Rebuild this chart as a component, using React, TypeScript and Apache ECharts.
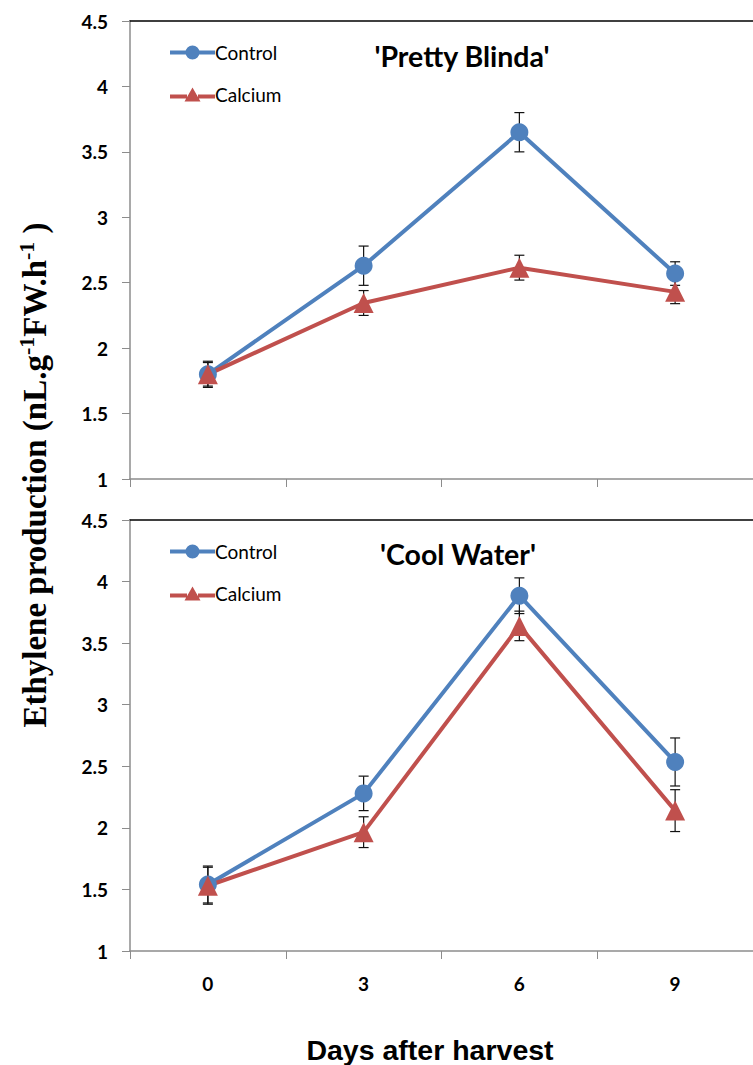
import React, { useEffect, useRef } from "react";
import * as echarts from "echarts";

const categories = ["0", "3", "6", "9"];
const yTicks = { min: 1, max: 4.5, interval: 0.5 };
const legendNames = ["Control", "Calcium"];

// 'Pretty Blinda'
const pbControl = [1.8, 2.63, 3.65, 2.57];
const pbControlErr = [0.1, 0.15, 0.15, 0.09];
const pbCalcium = [1.8, 2.345, 2.615, 2.43];
const pbCalciumErr = [0.09, 0.095, 0.095, 0.09];

// 'Cool Water'
const cwControl = [1.54, 2.28, 3.885, 2.535];
const cwControlErr = [0.15, 0.14, 0.145, 0.195];
const cwCalcium = [1.53, 1.965, 3.64, 2.14];
const cwCalciumErr = [0.15, 0.125, 0.12, 0.17];

const BLUE = "#4F81BD";
const RED = "#C0504D";
const AXIS_GRAY = "#8c8c8c";
const SANS = "Lato";

const ICON_CIRCLE =
  "path://M0,5 H16 V9 H0 Z M29,5 H45 V9 H29 Z M15.5,7 A7,7 0 1,1 29.5,7 A7,7 0 1,1 15.5,7 Z";
const ICON_TRIANGLE =
  "path://M0,7 H17 V11 H0 Z M28,7 H45 V11 H28 Z M22.5,0 L30.5,14 L14.5,14 Z";

function errBar(params: any, api: any) {
  const x = api.value(0);
  const v = api.value(1);
  const e = api.value(2);
  const top = api.coord([x, v + e]);
  const bot = api.coord([x, v - e]);
  const hw = 5;
  const st = { stroke: "#111", lineWidth: 1.2 };
  return {
    type: "group",
    children: [
      { type: "line", shape: { x1: top[0], y1: top[1], x2: bot[0], y2: bot[1] }, style: st },
      { type: "line", shape: { x1: top[0] - hw, y1: top[1], x2: top[0] + hw, y2: top[1] }, style: st },
      { type: "line", shape: { x1: bot[0] - hw, y1: bot[1], x2: bot[0] + hw, y2: bot[1] }, style: st },
    ],
  };
}

export default function App() {
  const ref = useRef<HTMLDivElement>(null);
  useEffect(() => {
    if (!ref.current) return;
    const chart = echarts.init(ref.current, undefined, { renderer: "svg" });

    const grids = [
      { left: 130, top: 21, width: 634, height: 458 },
      { left: 130, top: 520, width: 634, height: 431 },
    ];

    const bottomAxis = (gi: number, showLabels: boolean) => ({
      type: "category",
      gridIndex: gi,
      data: categories,
      boundaryGap: true,
      position: "bottom",
      axisLine: { show: true, lineStyle: { color: AXIS_GRAY, width: 1.5 } },
      axisTick: { show: true, length: 8, inside: false, lineStyle: { color: AXIS_GRAY, width: 1 } },
      axisLabel: {
        show: showLabels,
        margin: 23,
        fontFamily: SANS,
        fontWeight: "bold",
        fontSize: 19,
        color: "#000",
      },
      splitLine: { show: false },
    });
    const topBorder = (gi: number) => ({
      type: "category",
      gridIndex: gi,
      data: categories,
      position: "top",
      axisLine: { show: true, onZero: false, lineStyle: { color: "#000", width: 1.5 } },
      axisTick: { show: false },
      axisLabel: { show: false },
      splitLine: { show: false },
    });
    const yAxis = (gi: number) => ({
      type: "value",
      gridIndex: gi,
      min: yTicks.min,
      max: yTicks.max,
      interval: yTicks.interval,
      axisLine: { show: true, lineStyle: { color: AXIS_GRAY, width: 1.5 } },
      axisTick: { show: true, length: 8, lineStyle: { color: AXIS_GRAY, width: 1 } },
      axisLabel: {
        margin: 22,
        fontFamily: SANS,
        fontWeight: "bold",
        fontSize: 19,
        color: "#000",
      },
      splitLine: { show: false },
    });

    const lineSeries = (name: string, data: number[], gi: number, color: string, symbol: string, size: number) => ({
      type: "line",
      name,
      data,
      xAxisIndex: gi,
      yAxisIndex: gi,
      symbol,
      symbolSize: size,
      color,
      lineStyle: { color, width: 4 },
      itemStyle: { color },
      z: 3,
    });
    const errSeries = (name: string, vals: number[], errs: number[], gi: number) => ({
      type: "custom",
      name,
      xAxisIndex: gi,
      yAxisIndex: gi,
      data: vals.map((v, i) => [i, v, errs[i]]),
      encode: { x: 0, y: 1 },
      renderItem: errBar,
      z: 2,
    });

    const legendBase = {
      orient: "vertical",
      left: 165,
      itemWidth: 45,
      itemHeight: 14,
      itemGap: 23,
      selectedMode: false,
      data: [
        { name: legendNames[0], icon: ICON_CIRCLE },
        { name: legendNames[1], icon: ICON_TRIANGLE },
      ],
      textStyle: { fontFamily: SANS, fontSize: 19, color: "#000", padding: [0, 0, 0, -5] },
    };

    const option: any = {
      animation: false,
      backgroundColor: "#fff",
      grid: grids,
      xAxis: [bottomAxis(0, false), bottomAxis(1, true), topBorder(0), topBorder(1)],
      yAxis: [yAxis(0), yAxis(1)],
      legend: [
        { ...legendBase, top: 38 },
        { ...legendBase, top: 537 },
      ],
      series: [
        errSeries("errPBCon", pbControl, pbControlErr, 0),
        errSeries("errPBCal", pbCalcium, pbCalciumErr, 0),
        errSeries("errCWCon", cwControl, cwControlErr, 1),
        errSeries("errCWCal", cwCalcium, cwCalciumErr, 1),
        lineSeries("Control", pbControl, 0, BLUE, "circle", 18),
        lineSeries("Calcium", pbCalcium, 0, RED, "triangle", 20),
        lineSeries("Control", cwControl, 1, BLUE, "circle", 18),
        lineSeries("Calcium", cwCalcium, 1, RED, "triangle", 20),
      ],
      graphic: [
        {
          type: "text",
          x: 462,
          y: 56,
          style: {
            text: "'Pretty Blinda'",
            font: `bold 28.5px ${SANS}`,
            fill: "#000",
            align: "center",
            verticalAlign: "middle",
          },
        },
        {
          type: "text",
          x: 458,
          y: 554,
          style: {
            text: "'Cool Water'",
            font: `bold 28.5px ${SANS}`,
            fill: "#000",
            align: "center",
            verticalAlign: "middle",
          },
        },
        {
          type: "text",
          x: 430,
          y: 1050,
          style: {
            text: "Days after harvest",
            font: "bold 28.5px 'Liberation Sans'",
            fill: "#000",
            align: "center",
            verticalAlign: "middle",
          },
        },
        {
          type: "text",
          x: 33,
          y: 475,
          rotation: Math.PI / 2,
          style: {
            text: "{n|Ethylene production (nL.g}{s|-1}{n|FW.h}{s|-1}{n| )}",
            align: "center",
            verticalAlign: "middle",
            fill: "#000",
            rich: {
              n: {
                fontFamily: "'Liberation Serif'",
                fontWeight: "bold",
                fontSize: 33,
                verticalAlign: "bottom",
                lineHeight: 36,
              },
              s: {
                fontFamily: "'Liberation Serif'",
                fontWeight: "bold",
                fontSize: 22,
                verticalAlign: "top",
                lineHeight: 36,
                padding: [0, 0, 2, 0],
              },
            },
          },
        },
      ],
    };
    chart.setOption(option);
    return () => chart.dispose();
  }, []);
  return (
    <div
      ref={ref}
      style={{ position: "absolute", left: 0, top: 0, width: 753, height: 1065, overflow: "hidden" }}
    />
  );
}
